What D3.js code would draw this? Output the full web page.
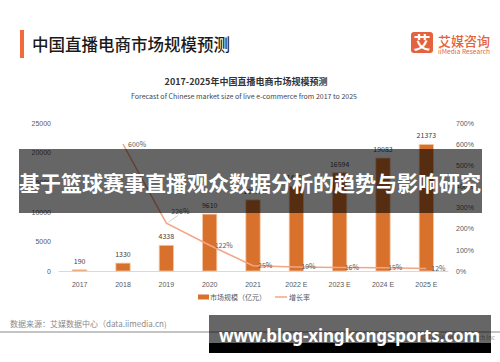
<!DOCTYPE html>
<html>
<head>
<meta charset="utf-8">
<title>中国直播电商市场规模预测</title>
<script src="https://cdn.jsdelivr.net/npm/d3@7"></script>
<style>
  body { margin: 0; background: #fff; }
  svg { display: block; font-family: "Noto Sans CJK SC", "Noto Sans", sans-serif; }
  .tick text { fill: #595959; font-size: 7px; }
</style>
</head>
<body>
<svg id="chart" width="500" height="362"></svg>
<script>
// data
const years = ["2017", "2018", "2019", "2020", "2021", "2022 E", "2023 E", "2024 E", "2025 E"];
const marketSize = [190, 1330, 4338, 9610, 12012, 14297, 16594, 19083, 21373];   // 亿元
const growthRate = [null, 600, 226, 122, 25, 19, 16, 15, 12];                      // %
const leftTicks = [0, 5000, 10000, 15000, 20000, 25000];
const rightTicks = [0, 100, 200, 300, 400, 500, 600, 700];

const svg = d3.select("#chart");
svg.append("rect").attr("width", 500).attr("height", 362).attr("fill", "#fff");

// header
svg.append("rect").attr("x", 20).attr("y", 30).attr("width", 4).attr("height", 28).attr("fill", "#f26b3a");
svg.append("text").attr("x", 32).attr("y", 50.5)
  .attr("font-size", 16.5).attr("font-weight", 500).attr("fill", "#1a1a1a")
  .text("中国直播电商市场规模预测");

// logo
svg.append("rect").attr("x", 411).attr("y", 32).attr("width", 22).attr("height", 21).attr("rx", 3)
  .attr("fill", "#e4623d");
svg.append("text").attr("x", 422).attr("y", 49).attr("text-anchor", "middle")
  .attr("font-size", 17).attr("font-weight", 700).attr("fill", "#fff").text("艾");
svg.append("text").attr("x", 438).attr("y", 46).attr("font-size", 13).attr("font-weight", 500)
  .attr("fill", "#e4623d").text("艾媒咨询");
svg.append("text").attr("x", 438).attr("y", 53.5).attr("font-size", 6.5)
  .attr("textLength", 52).attr("fill", "#e4623d").text("iiMedia Research");

// chart titles
svg.append("text").attr("x", 246).attr("y", 84.5).attr("text-anchor", "middle")
  .attr("font-size", 9).attr("font-weight", 700).attr("fill", "#333")
  .text("2017-2025年中国直播电商市场规模预测");
svg.append("text").attr("x", 244).attr("y", 98.5).attr("text-anchor", "middle")
  .attr("font-size", 7).attr("textLength", 226).attr("fill", "#444")
  .text("Forecast of Chinese market size of live e-commerce from 2017 to 2025");

// scales
const x = d3.scaleBand().domain(years).range([58, 448]).padding(0);
const yL = d3.scaleLinear().domain([0, 25000]).range([271, 123]);
const yR = d3.scaleLinear().domain([0, 700]).range([271, 123]);
const barW = x.bandwidth() * 0.33;

// axes
svg.append("g").attr("transform", "translate(51,0)")
  .call(d3.axisLeft(yL).tickValues(leftTicks).tickSize(0).tickPadding(0).tickFormat(d3.format("d")))
  .call(g => g.select(".domain").remove());
svg.append("g").attr("transform", "translate(456,0)")
  .call(d3.axisRight(yR).tickValues(rightTicks).tickSize(0).tickPadding(0).tickFormat(d => d + "%"))
  .call(g => g.select(".domain").remove());
svg.append("g").attr("transform", "translate(0,271)")
  .call(d3.axisBottom(x).tickSize(0).tickPadding(11))
  .call(g => g.select(".domain").attr("stroke", "#d9d9d9"));

// bars
svg.append("g").selectAll("rect").data(marketSize).enter().append("rect")
  .attr("x", (d, i) => x(years[i]) + (x.bandwidth() - barW) / 2)
  .attr("y", d => yL(d))
  .attr("width", barW)
  .attr("height", d => yL(0) - yL(d))
  .attr("fill", "#d8712c")
  .attr("stroke", "#f3c6a5").attr("stroke-width", 0.8);

svg.append("g").selectAll("text").data(marketSize).enter().append("text")
  .attr("x", (d, i) => x(years[i]) + x.bandwidth() / 2)
  .attr("y", d => yL(d) - 6)
  .attr("text-anchor", "middle").attr("font-size", 7).attr("fill", "#404040")
  .text(d => d);

// growth line
const pts = growthRate.map((v, i) => ({ year: years[i], v: v })).filter(d => d.v !== null);
const line = d3.line().x(d => x(d.year) + x.bandwidth() / 2).y(d => yR(d.v));
svg.append("path").datum(pts).attr("d", line)
  .attr("fill", "none").attr("stroke", "#f4a585").attr("stroke-width", 1.5);

// 226% label sits up-right with a leader line
const lift = d => d.v === 226 ? 12 : 0;
svg.append("g").selectAll("line").data(pts.filter(d => lift(d) > 0)).enter().append("line")
  .attr("x1", d => x(d.year) + x.bandwidth() / 2 + 2).attr("y1", d => yR(d.v) - 1)
  .attr("x2", d => x(d.year) + x.bandwidth() / 2 + 12).attr("y2", d => yR(d.v) - 8)
  .attr("stroke", "#bfbfbf").attr("stroke-width", 0.7);
svg.append("g").selectAll("text").data(pts).enter().append("text")
  .attr("x", d => x(d.year) + x.bandwidth() / 2 + 5)
  .attr("y", d => yR(d.v) - lift(d) + 2.5)
  .attr("font-size", 7).attr("fill", "#595959")
  .text(d => d.v + "%");

// legend
svg.append("rect").attr("x", 198).attr("y", 294.5).attr("width", 11).attr("height", 5).attr("fill", "#d8712c");
svg.append("text").attr("x", 210).attr("y", 299.5).attr("font-size", 7).attr("fill", "#595959").text("市场规模（亿元）");
svg.append("line").attr("x1", 275).attr("x2", 287).attr("y1", 297).attr("y2", 297)
  .attr("stroke", "#f4a585").attr("stroke-width", 1.5);
svg.append("text").attr("x", 289).attr("y", 299.5).attr("font-size", 7).attr("fill", "#595959").text("增长率");

// footer
svg.append("text").attr("x", 10).attr("y", 326.5).attr("font-size", 8).attr("fill", "#8a8a8a")
  .text("数据来源：艾媒数据中心（data.iimedia.cn)");
svg.append("line").attr("x1", 0).attr("x2", 500).attr("y1", 332).attr("y2", 332)
  .attr("stroke", "#b0b0b0").attr("stroke-width", 1.5);
svg.append("text").attr("x", 495).attr("y", 339.5).attr("text-anchor", "end")
  .attr("font-size", 6).attr("fill", "#a0a0a0").text("©2020 iiMedia Research Inc");

// overlay bands
svg.append("rect").attr("x", 19).attr("y", 149).attr("width", 463).attr("height", 64)
  .attr("fill", "#000").attr("fill-opacity", 0.6);
svg.append("text").attr("x", 19).attr("y", 191).attr("font-size", 21).attr("font-weight", 700)
  .attr("textLength", 462).attr("fill", "#fff")
  .text("基于篮球赛事直播观众数据分析的趋势与影响研究");

svg.append("rect").attr("x", 209).attr("y", 315).attr("width", 282).attr("height", 28)
  .attr("fill", "#000").attr("fill-opacity", 0.6);
svg.append("rect").attr("x", 209).attr("y", 343).attr("width", 282).attr("height", 10).attr("fill", "#000");
svg.append("text").attr("x", 219).attr("y", 341.5).attr("font-size", 17).attr("font-weight", 700)
  .attr("font-family", "'Noto Sans', sans-serif")
  .attr("textLength", 261).attr("fill", "#fff")
  .text("www.blog-xingkongsports.com");
</script>
</body>
</html>
